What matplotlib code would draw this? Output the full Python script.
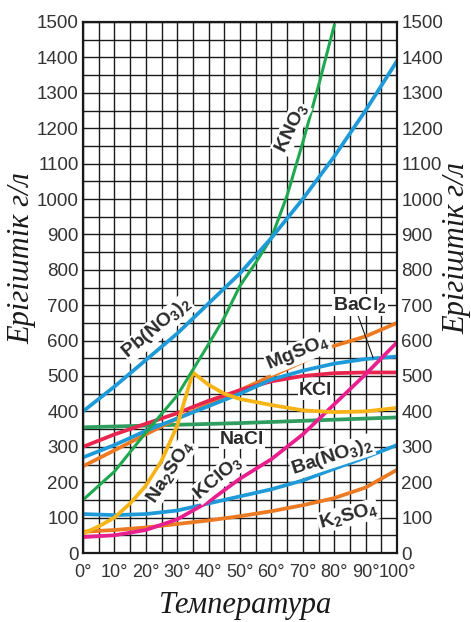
import numpy as np
import matplotlib
matplotlib.use('Agg')
import matplotlib.pyplot as plt

plt.rcParams['font.family'] = ['Liberation Sans', 'DejaVu Sans']
plt.rcParams['mathtext.default'] = 'regular'

# temperature points (deg C)
temps = [0, 10, 20, 30, 40, 50, 60, 70, 80, 90, 100]

# solubility, g/L
pb_no3 = [400, 470, 545, 620, 705, 790, 890, 1000, 1120, 1250, 1390]
kno3_t = [0, 10, 20, 30, 40, 45, 50, 55, 60, 65, 70, 75, 80]
kno3 = [150, 230, 340, 445, 590, 665, 755, 820, 890, 1010, 1160, 1320, 1490]
na2so4_t = [0, 5, 10, 15, 20, 25, 30, 35, 40, 45, 50, 60, 70, 80, 90, 100]
na2so4 = [55, 75, 100, 140, 190, 260, 360, 510, 475, 450, 435, 418, 403, 398, 400, 410]
nacl_t = [0, 50, 100]
nacl = [355, 367, 383]
kcl = [300, 335, 365, 395, 430, 460, 485, 500, 508, 510, 510]
bacl2 = [270, 305, 345, 380, 415, 450, 490, 515, 535, 548, 555]
mgso4 = [245, 290, 335, 380, 420, 460, 500, 540, 585, 612, 650]
kclo3 = [45, 50, 65, 95, 145, 210, 265, 335, 420, 505, 595]
ba_no3 = [110, 107, 110, 120, 140, 160, 180, 205, 238, 270, 305]
k2so4 = [60, 65, 72, 82, 92, 104, 118, 135, 155, 185, 235]

x_labels = ['%d°' % t for t in temps]
y_ticks = list(range(0, 1501, 100))

blue = '#1f9ad8'
green = '#1fa84f'
teal = '#2f9c60'
red = '#e8254f'
orange = '#ec7a22'
yellow = '#f6b417'
magenta = '#e8208f'

fig = plt.figure(figsize=(4.71, 6.22), dpi=100)
ax = fig.add_axes([83 / 471, 1 - 553 / 622, (397 - 83) / 471, (553 - 22) / 622])

ax.set_xlim(0, 100)
ax.set_ylim(0, 1500)
ax.set_xticks(temps)
ax.set_xticks(range(0, 101, 5), minor=True)
ax.set_yticks(y_ticks)
ax.set_yticks(range(0, 1501, 50), minor=True)
ax.set_xticklabels(x_labels)
ax.grid(True, which='both', color='#1a1a1a', linewidth=1.0)
ax.set_axisbelow(True)
ax.tick_params(which='both', length=0, labelsize=13.5, labelcolor='#333333',
               right=True, labelright=True)
ax.tick_params(axis='y', pad=3)
ax.tick_params(axis='x', pad=8, labelsize=13)
for s in ax.spines.values():
    s.set_linewidth(1.6)
    s.set_color('#1a1a1a')

lw = 2.7
ax.plot(temps, k2so4, color=orange, lw=lw)
ax.plot(temps, ba_no3, color=blue, lw=lw)
ax.plot(nacl_t, nacl, color=teal, lw=lw)
ax.plot(temps, mgso4, color=orange, lw=lw)
ax.plot(temps, kcl, color=red, lw=lw)
ax.plot(temps, bacl2, color=blue, lw=lw)
ax.plot(temps, kclo3, color=magenta, lw=lw)
ax.plot(na2so4_t, na2so4, color=yellow, lw=lw)
ax.plot(kno3_t, kno3, color=green, lw=2.2)
ax.plot(temps, pb_no3, color=blue, lw=lw)

# leader line for BaCl2
ax.plot([87.3, 92.4], [678, 551], color='#1a1a1a', lw=0.8)

box = dict(facecolor='white', edgecolor='none', pad=0.5)
labels = [
    (r'KNO$_3$', 66.3, 1200, 64),
    (r'Pb(NO$_3$)$_2$', 23.6, 635, 40),
    (r'MgSO$_4$', 68.5, 565, 22),
    (r'BaCl$_2$', 88.2, 700, 0),
    ('KCl', 73.9, 458, 0),
    ('NaCl', 50.6, 320, 0),
    (r'Na$_2$SO$_4$', 27.7, 230, 57),
    (r'KClO$_3$', 43.0, 212, 40),
    (r'Ba(NO$_3$)$_2$', 79.3, 272, 18),
    (r'K$_2$SO$_4$', 84.4, 105, 15),
]
for txt, x, y, rot in labels:
    ax.text(x, y, txt, rotation=rot, ha='center', va='center', fontsize=14,
            fontweight='bold', color='#2a2a2a', bbox=box, zorder=5,
            rotation_mode='anchor')

ylab = 'Ерігіштік г/л'
fig.text(22 / 471, 1 - 258 / 622, ylab, rotation=90, ha='center', va='center',
         fontsize=22, family='Liberation Serif', style='italic', color='#1a1a1a')
fig.text(457 / 471, 1 - 248 / 622, ylab, rotation=90, ha='center', va='center',
         fontsize=22, family='Liberation Serif', style='italic', color='#1a1a1a')
fig.text(245 / 471, 1 - 605 / 622, 'Температура', ha='center', va='center',
         fontsize=22, family='Liberation Serif', style='italic', color='#1a1a1a')

fig.savefig('out.png', dpi=100)
